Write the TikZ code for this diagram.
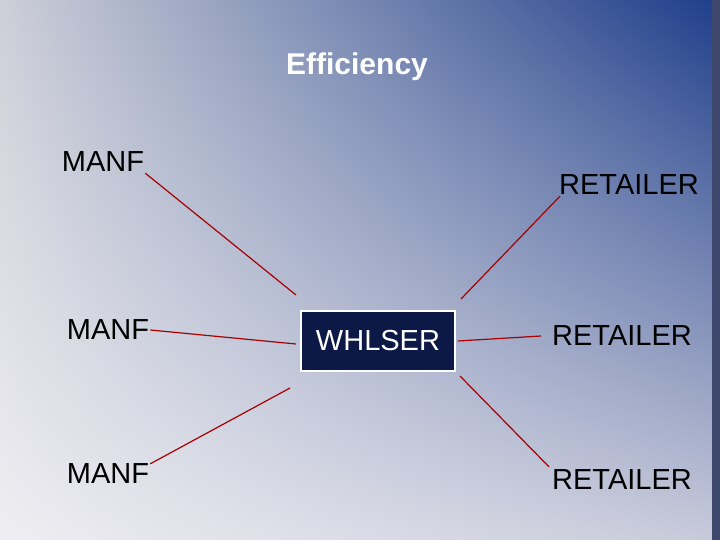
\documentclass[tikz,border=0pt]{standalone}
\usepackage{fontspec}
\setmainfont{Liberation Sans}
\usetikzlibrary{shadings}
\definecolor{navy}{RGB}{12,24,70}
\definecolor{bgul}{RGB}{205,207,216}
\definecolor{bgur}{RGB}{30,62,138}
\definecolor{bgll}{RGB}{238,238,242}
\definecolor{bglr}{RGB}{200,202,218}
\begin{document}
\begin{tikzpicture}[x=1pt,y=-1pt]
\tikzset{lbl/.style={inner sep=1pt,font=\fontsize{29}{30}\selectfont},
  link/.style={draw=red!65!black,line width=1.2pt}}
\shade[upper left=bgul,upper right=bgur,lower left=bgll,lower right=bglr]
  (0,0) rectangle (720,540);
\useasboundingbox (0,0) rectangle (720,540);
\fill[navy!80] (712,0) rectangle (720,540);
\node[text=white,font=\bfseries\fontsize{30}{32}\selectfont] (title) at (357,67) {Efficiency};
\node[lbl] (m1) at (103,162) {MANF};
\node[lbl] (m2) at (108,330) {MANF};
\node[lbl] (m3) at (108,474) {MANF};
\node[lbl] (r1) at (629,185) {RETAILER};
\node[lbl] (r2) at (622,336) {RETAILER};
\node[lbl] (r3) at (622,480) {RETAILER};
\node[draw=white,line width=2pt,fill=navy,text=white,font=\fontsize{29}{30}\selectfont,
  minimum width=154pt,minimum height=60pt] (w) at (378,341) {WHLSER};
\draw[link] (m1.south east) -- ([xshift=-4pt,yshift=15pt]w.north west);
\draw[link] (m2.east) -- ([xshift=-4pt,yshift=-3pt]w.west);
\draw[link] ([yshift=-1pt]m3.north east) -- ([xshift=-10pt,yshift=-16pt]w.south west);
\draw[link] ([xshift=2pt]r1.south west) -- ([xshift=5pt,yshift=11pt]w.north east);
\draw[link] ([xshift=2pt]w.east) -- ([xshift=-10pt]r2.west);
\draw[link] ([xshift=4pt,yshift=-4pt]w.south east) -- ([xshift=-2pt,yshift=2pt]r3.north west);
\end{tikzpicture}
\end{document}
